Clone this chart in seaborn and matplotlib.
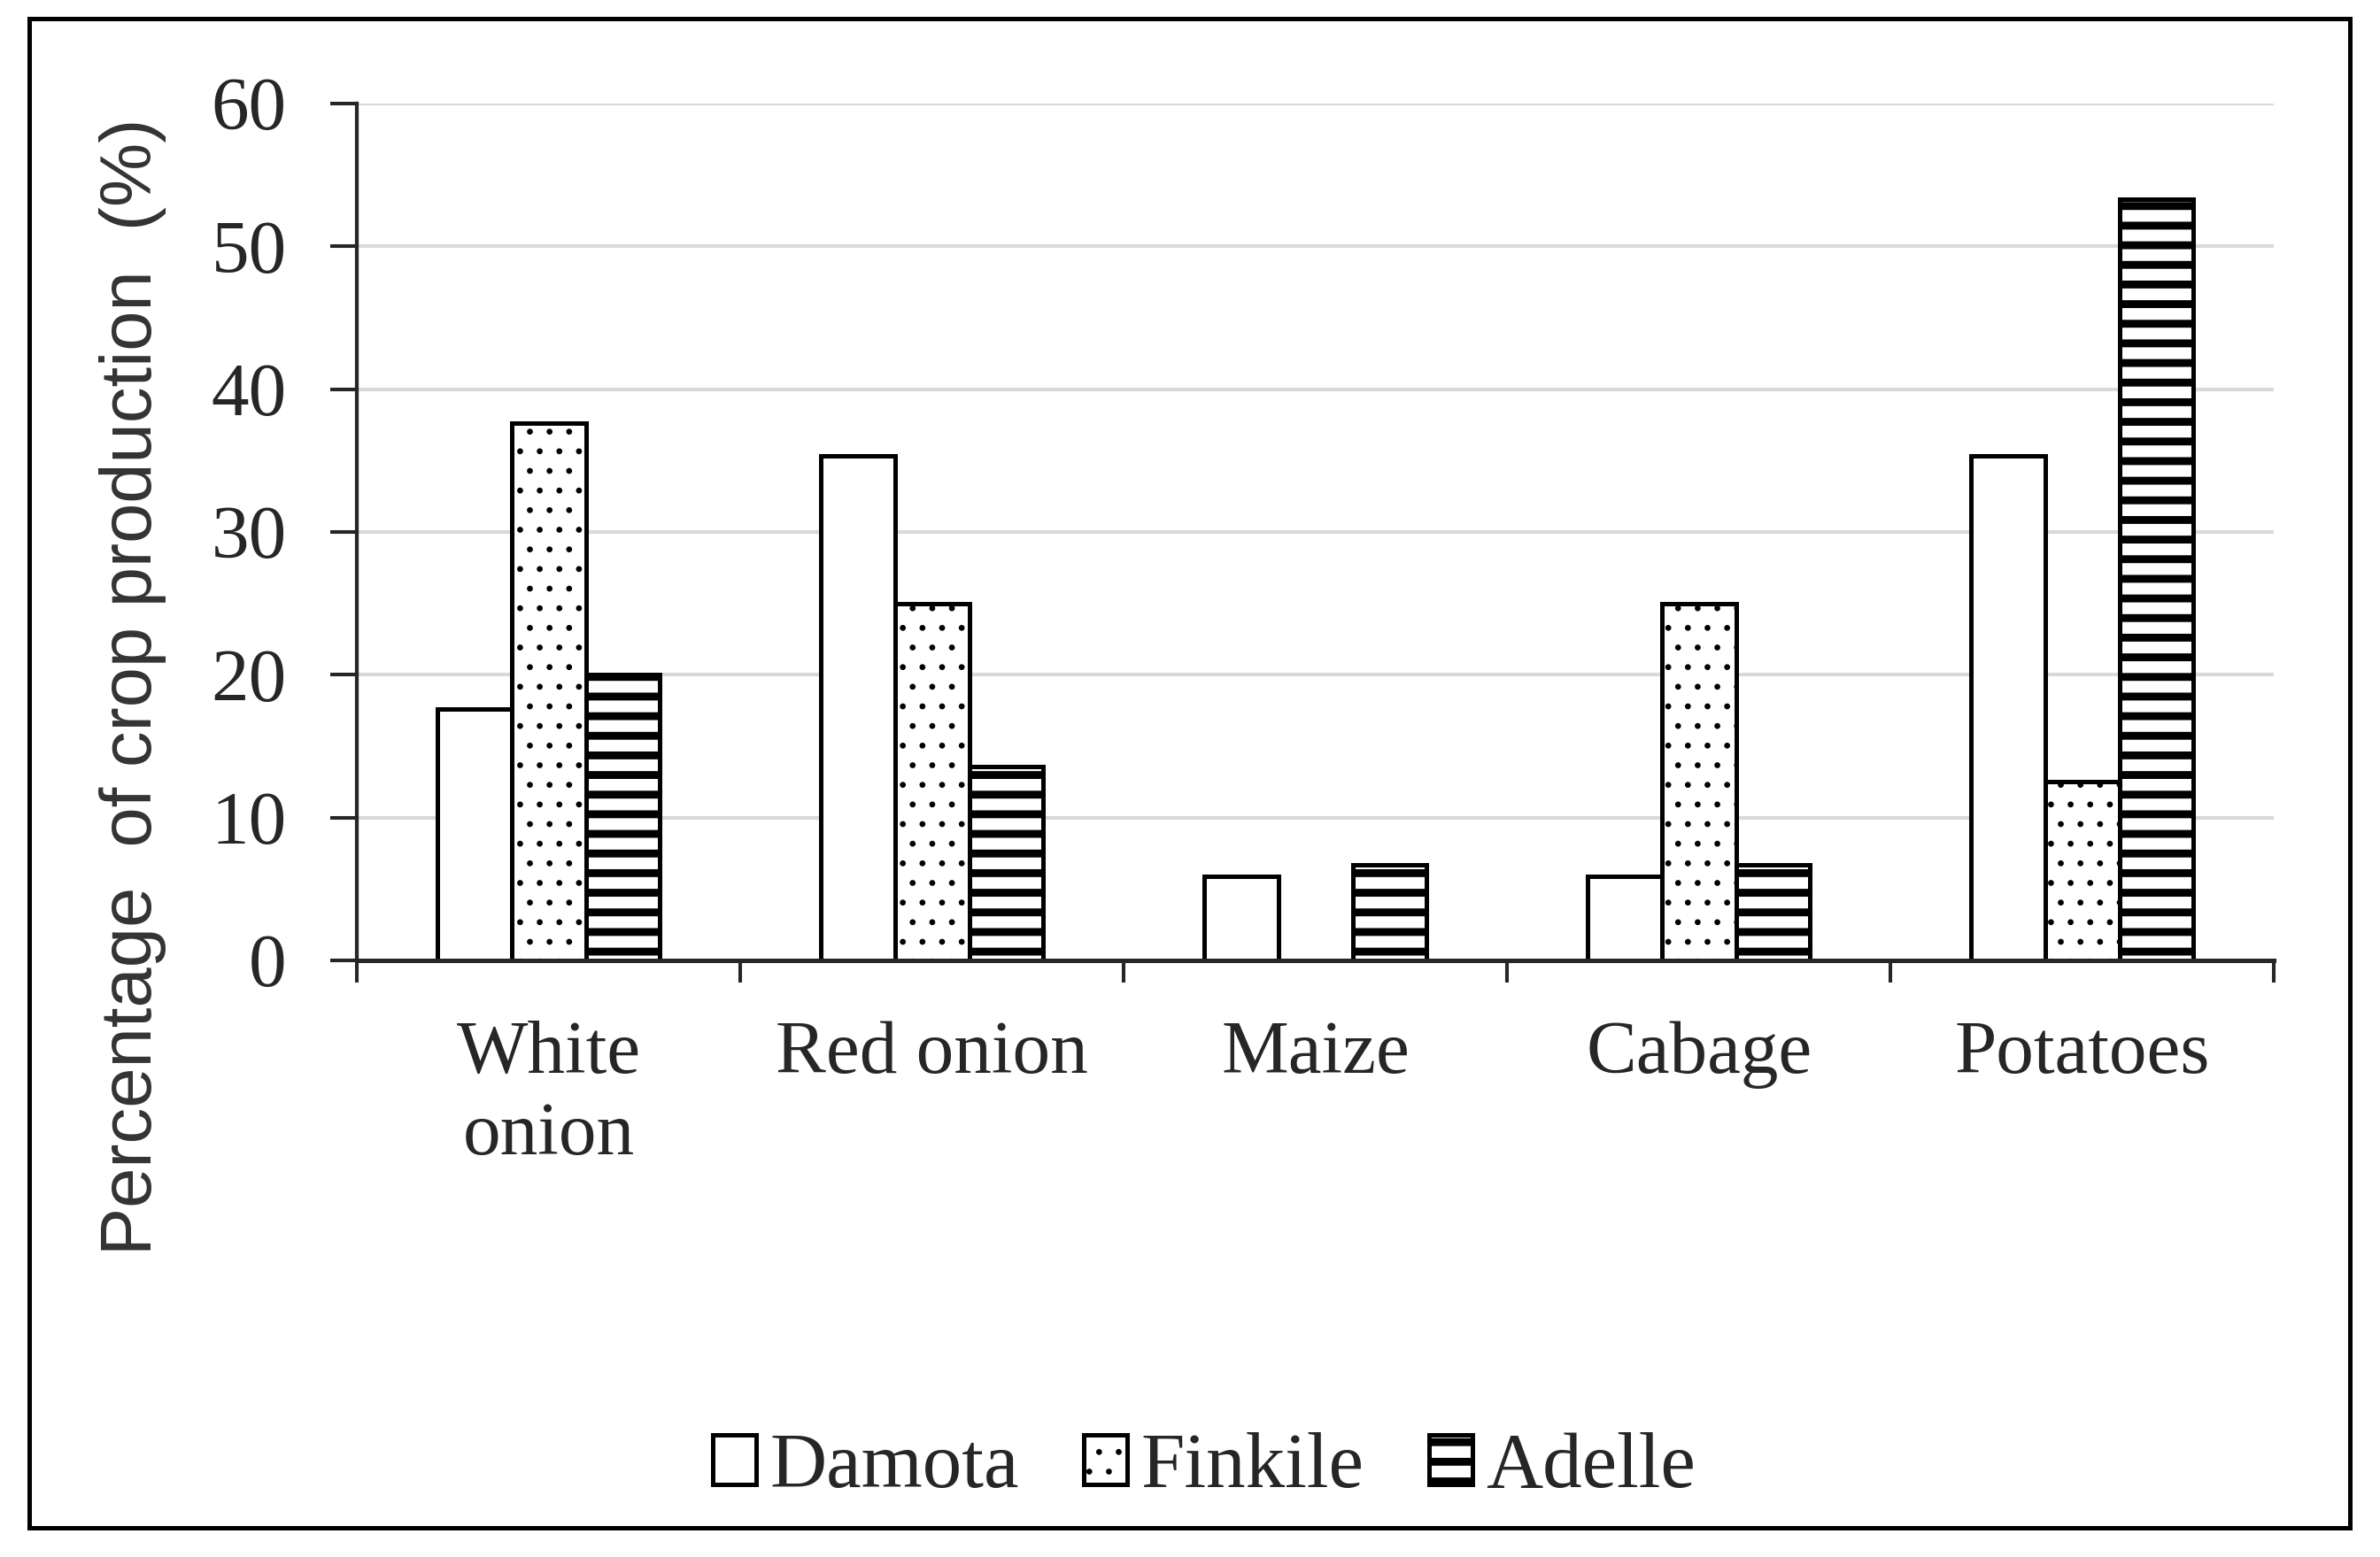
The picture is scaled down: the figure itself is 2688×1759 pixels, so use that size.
import pandas as pd
import matplotlib.pyplot as plt
import seaborn as sns
from matplotlib.patches import Rectangle

crops = ['White\nonion', 'Red onion', 'Maize', 'Cabage', 'Potatoes']
sites = ['Damota', 'Finkile', 'Adelle']
damota = [17.6, 35.3, 5.9, 5.9, 35.3]
finkile = [37.6, 25.0, 0.0, 25.0, 12.5]
adelle = [20.0, 13.6, 6.7, 6.7, 53.3]
yticks = [0, 10, 20, 30, 40, 50, 60]

rows = []
for site, vals in zip(sites, [damota, finkile, adelle]):
    for crop, v in zip(crops, vals):
        rows.append({'crop': crop, 'site': site, 'value': v})
df = pd.DataFrame(rows)

sns.set_style('ticks')
plt.rcParams['font.family'] = ['Liberation Serif', 'DejaVu Serif']
plt.rcParams['hatch.linewidth'] = 4.8

hatches = ['', '.', '-']
hatch_lw = [1.0, 1.2, 4.8]


def style_hatch(p, i):
    p.set_hatch(hatches[i])
    if hasattr(p, 'set_hatch_linewidth'):
        p.set_hatch_linewidth(hatch_lw[i])


DPI = 2688 / 20.16
fig = plt.figure(figsize=(20.16, 1759 / DPI), dpi=DPI)
ax = fig.add_axes([0.150, 0.3832, 0.8055, 0.5503])

sns.barplot(data=df, x='crop', y='value', hue='site', order=crops, hue_order=sites,
            palette=['white'] * 3, saturation=1, edgecolor='black', linewidth=2.7,
            width=0.58, legend=False, ax=ax, zorder=3)

for i, cont in enumerate(ax.containers):
    for p in cont.patches:
        style_hatch(p, i)

ax.set_ylim(0, 60)
ax.set_xlim(-0.5, 4.5)
ax.set_yticks(yticks)
ax.set_xlabel('')
ax.set_ylabel('')
ax.yaxis.grid(True, color='#d9d9d9', lw=2.2, zorder=0)
ax.set_axisbelow(True)

for s in ['top', 'right']:
    ax.spines[s].set_visible(False)
ax.spines['left'].set_linewidth(2.3)
ax.spines['bottom'].set_linewidth(2.7)
ax.spines['bottom'].set_zorder(5)

ax.tick_params(axis='y', length=16, width=2.2, pad=27, labelsize=46)
ax.set_xticks([i - 0.5 for i in range(6)], minor=True)
ax.tick_params(axis='x', which='minor', length=13.5, width=2.2, direction='out')
ax.tick_params(axis='x', which='major', length=0, pad=37, labelsize=46)
for lab in ax.get_xticklabels():
    lab.set_linespacing(1.25)

fig.text(0.0558, 0.559, 'Percentage  of crop production  (%)', rotation=90,
         ha='center', va='center', fontsize=44, family=['Liberation Sans', 'DejaVu Sans'],
         color='#333333')

leg = fig.legend(handles=[c.patches[0] for c in ax.containers], labels=sites,
                 loc='center', bbox_to_anchor=(0.506, 0.057), ncol=3, frameon=False,
                 fontsize=48, handlelength=0.55, handleheight=0.6, handletextpad=0.17,
                 columnspacing=0.83)
for i, h in enumerate(leg.legend_handles):
    style_hatch(h, i)

fig.add_artist(Rectangle((0.0123, 0.019), 0.975, 0.969, transform=fig.transFigure,
                         fill=False, lw=2.7, edgecolor='black'))

fig.savefig('out.png', dpi=DPI, facecolor='white')
